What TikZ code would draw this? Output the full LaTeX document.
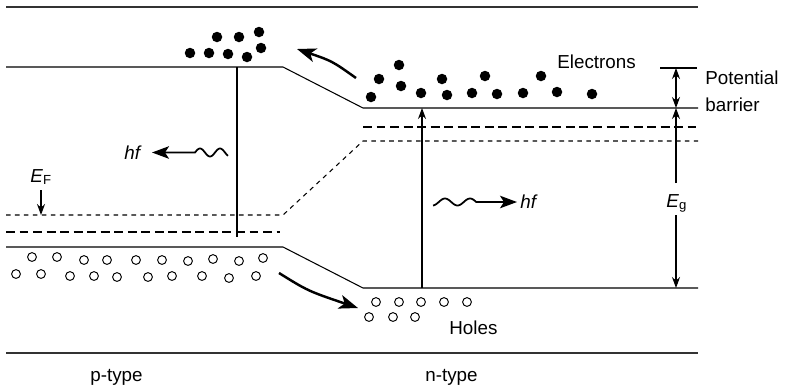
\documentclass[tikz,border=0pt]{standalone}
\usepackage{fontspec}
\setmainfont{Liberation Sans}
\usetikzlibrary{arrows.meta}

\tikzset{
  band/.style={line width=0.6pt},
  frame/.style={line width=0.8pt, black!80},
  longdash/.style={line width=0.6pt, dash pattern=on 5.1pt off 2.6pt},
  shortdash/.style={line width=0.6pt, dash pattern=on 2.6pt off 2.5pt},
  lbl/.style={inner sep=0pt, font=\fontsize{10.7}{15.3}\selectfont},
  hole/.style={draw, line width=0.55pt},
  tip/.style={-{Stealth[length=0.22cm,width=0.16cm]}},
  twotip/.style={{Stealth[length=0.22cm,width=0.16cm]}-{Stealth[length=0.22cm,width=0.16cm]}},
  flow/.style={-{Stealth[length=0.38cm,width=0.28cm,inset=0.1cm]}, line width=1.4pt},
  photon/.style={-{Stealth[length=0.34cm,width=0.25cm,inset=0.08cm]}, line width=1pt},
}

\begin{document}
\begin{tikzpicture}[x=0.02cm, y=-0.02cm]
  \useasboundingbox (0,0) rectangle (786,390);

  % top and bottom
  \draw[frame] (6,7) -- (698,7);
  \draw[frame] (6,353) -- (698,353);

  % bands
  \draw[band] (6,67) -- (283,67) -- (363,108) -- (698,108);
  \draw[band] (6,247) -- (283,247) -- (363,288) -- (698,288);
  \draw[shortdash] (6,215) -- (283,215) -- (363,141) -- (698,141);
  \draw[longdash] (6,232) -- (280,232);
  \draw[longdash] (363,127) -- (696,127);

  % electrons
  \foreach \ex/\ey in {190/53, 209/53, 228/54, 247/57, 217/37, 239/37, 259/32, 261/48,
      371/97, 379/79, 399/65, 401/86, 421/93, 442/79, 447/95, 472/93, 485/76,
      497/94, 523/93, 541/76, 557/92, 592/94}
    \fill (\ex,\ey) circle[radius=0.105cm];

  % holes
  \foreach \hx/\hy in {32/257, 57/257, 84/260, 107/260, 136/260, 162/260, 188/261, 213/259,
      239/261, 263/258, 16/274, 41/274, 70/276, 94/276, 117/277, 148/277, 172/276,
      202/276, 229/278, 256/276,
      376/302, 399/302, 421/302, 444/302, 467/302, 369/317, 393/317, 415/317}
    \draw[hole] (\hx,\hy) circle[radius=0.088cm];

  % labels
  \node[lbl, anchor=base west] (el) at (557,68) {Electrons};
  \node[lbl, anchor=base west] (ho) at (449,334) {Holes};
  \node[lbl, anchor=base west] (pt) at (90,381) {p-type};
  \node[lbl, anchor=base west] (nt) at (425,381) {n-type};

  % recombination
  \coordinate (cp) at (237,67);
  \coordinate (vp) at (237,237);
  \draw[band] (cp) -- (vp);
  \coordinate (cn) at (422,108);
  \coordinate (vn) at (422,288);
  \draw[band, tip] (vn) -- (cn);

  % photons
  \node[lbl, anchor=base east] (hfL) at (142,159) {\textit{hf}};
  \draw[photon] plot[domain=0:33, samples=40, smooth] ({228-\x}, {152.5-4*sin((33-\x)*18)})
    -- (152,152.5);
  \node[lbl, anchor=base west] (hfR) at (520,208) {\textit{hf}};
  \draw[photon] plot[domain=433:476.25, samples=40, smooth] (\x, {202-3.5*sin((\x-438.75)*14.4)})
    -- (517,202);

  % carriers crossing
  \draw[flow] (356,78) .. controls (332,61) .. (297,49);
  \draw[flow] (279,273) .. controls (308,291) .. (358,308);

  % Fermi level
  \node[lbl, anchor=base west] (EF) at (30,182) {\textit{E}\textsubscript{F}};
  \coordinate (fp) at (41,215);
  \draw[band, tip] (41,190) -- (fp);

  % potential barrier
  \draw[band] (660,68) -- (697,68);
  \coordinate (pbT) at (676,68);
  \coordinate (pbB) at (676,108);
  \draw[band, twotip] (pbT) -- (pbB);
  \node[lbl, anchor=west, align=left] (pb) at (705,91) {Potential\\barrier};

  % band gap
  \node[lbl, anchor=base west] (Eg) at (666,207) {\textit{E}\textsubscript{g}};
  \coordinate (gT) at (676,108);
  \coordinate (gB) at (676,288);
  \draw[band, tip] (676,183) -- (gT);
  \draw[band, tip] (676,215) -- (gB);
\end{tikzpicture}
\end{document}
